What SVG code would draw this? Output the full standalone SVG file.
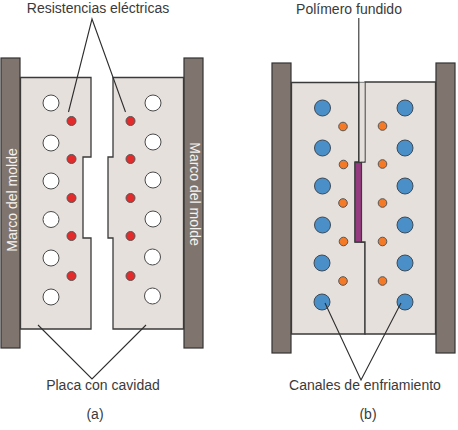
<svg xmlns="http://www.w3.org/2000/svg" width="458" height="430" viewBox="0 0 458 430">
<style>
text{font-family:"Liberation Sans",Arial,sans-serif;font-size:14px;fill:#3a3a3a}
.t{text-anchor:middle}
.w{fill:#f4f2f0}
.frame{fill:#7f756e;stroke:#333;stroke-width:1.2}
.plate{fill:#e5e0dc;stroke:#3a3a3a;stroke-width:1.3}
.hole{fill:#fff;stroke:#4a4a4a;stroke-width:1}
.res{fill:#e32b2b;stroke:#555;stroke-width:1}
.cool{fill:#4a8fc7;stroke:#3f4a55;stroke-width:1}
.org{fill:#f47a28;stroke:#555;stroke-width:1}
.lead{fill:none;stroke:#2e2e2e;stroke-width:1.1}
</style>
<rect width="458" height="430" fill="#fff"/>
<g id="mold-a">
<g id="frame-a-left"><rect class="frame" x="1" y="58" width="19" height="290"/><text class="w t" transform="translate(16.500 200) rotate(-90)">Marco del molde</text></g>
<g id="frame-a-right"><rect class="frame" x="184" y="58" width="19" height="290"/><text class="w t" transform="translate(190 194) rotate(90)">Marco del molde</text></g>
<g id="plate-a-left"><path class="plate" d="M20.500 77.500H91V157H83V238H91V329H20.500Z"/>
<g class="hole"><circle cx="51" cy="103" r="8"/><circle cx="51" cy="143" r="8"/><circle cx="51" cy="181" r="8"/><circle cx="51" cy="219.500" r="8"/><circle cx="51" cy="258" r="8"/><circle cx="51" cy="297" r="8"/></g>
<g class="res"><circle cx="71.500" cy="121" r="4.500"/><circle cx="71.500" cy="159" r="4.500"/><circle cx="71.500" cy="198" r="4.500"/><circle cx="71.500" cy="236" r="4.500"/><circle cx="71.500" cy="276" r="4.500"/></g></g>
<g id="plate-a-right"><path class="plate" d="M113 77.500H183.500V329H113V238H108V157H113Z"/>
<g class="hole"><circle cx="153" cy="103" r="8"/><circle cx="153" cy="142" r="8"/><circle cx="153" cy="180" r="8"/><circle cx="153" cy="219" r="8"/><circle cx="152.500" cy="257" r="8"/><circle cx="152.500" cy="296" r="8"/></g>
<g class="res"><circle cx="130.500" cy="121" r="4.500"/><circle cx="130.500" cy="159" r="4.500"/><circle cx="130.500" cy="198" r="4.500"/><circle cx="130.500" cy="236" r="4.500"/><circle cx="130.500" cy="276" r="4.500"/></g></g>
</g>
<g id="mold-b">
<g id="frame-b-left"><rect class="frame" x="272" y="63" width="19" height="290"/></g>
<g id="frame-b-right"><rect class="frame" x="436" y="63" width="19" height="290"/></g>
<g id="plate-b-left"><path class="plate" d="M291.500 82.500H359V162H355V242H365V334H291.500Z"/>
<g class="cool"><circle cx="322.500" cy="108" r="8"/><circle cx="322.500" cy="148" r="8"/><circle cx="322.500" cy="186" r="8"/><circle cx="322.500" cy="225" r="8"/><circle cx="322" cy="263" r="8"/><circle cx="322" cy="302" r="8"/></g>
<g class="org"><circle cx="343" cy="126.500" r="4.300"/><circle cx="343.500" cy="164.500" r="4.300"/><circle cx="343" cy="203" r="4.300"/><circle cx="343.500" cy="241.500" r="4.300"/><circle cx="343" cy="281" r="4.300"/></g></g>
<g id="plate-b-right"><path class="plate" d="M365 82H435.500V334H365V242H361V162H365Z"/>
<g class="cool"><circle cx="405" cy="108" r="8"/><circle cx="405" cy="148" r="8"/><circle cx="405" cy="186" r="8"/><circle cx="405" cy="225" r="8"/><circle cx="405" cy="263" r="8"/><circle cx="405" cy="302" r="8"/></g>
<g class="org"><circle cx="382.500" cy="126" r="4.300"/><circle cx="382.500" cy="164" r="4.300"/><circle cx="382.500" cy="203" r="4.300"/><circle cx="382.500" cy="241.500" r="4.300"/><circle cx="382.500" cy="281" r="4.300"/></g></g>
<g id="channel"><rect x="359.500" y="82.500" width="5" height="79" fill="#e5e0dc"/><path d="M359 82.300H365" stroke="#777" stroke-width="1"/></g>
<g id="polymer"><rect x="355" y="162.500" width="6.500" height="79.500" fill="#963a80" stroke="#3a3a3a" stroke-width="1.200"/></g>
</g>
<g id="connectors">
<path class="lead" d="M68.500 112L92 19L125.500 112"/>
<path class="lead" d="M38 325L92 379L146 325"/>
<path class="lead" d="M358.800 18V162"/>
<path class="lead" d="M325 303L361 380L401 303"/>
</g>
<g id="labels">
<text id="label-res" class="t" x="98" y="13">Resistencias eléctricas</text>
<text id="label-pol" class="t" x="349" y="14">Polímero fundido</text>
<text id="label-plate" class="t" x="103" y="390">Placa con cavidad</text>
<text id="label-chan" class="t" x="365" y="390">Canales de enfriamiento</text>
<text id="label-a" class="t" x="95" y="419">(a)</text>
<text id="label-b" class="t" x="368" y="419">(b)</text>
</g>
</svg>
